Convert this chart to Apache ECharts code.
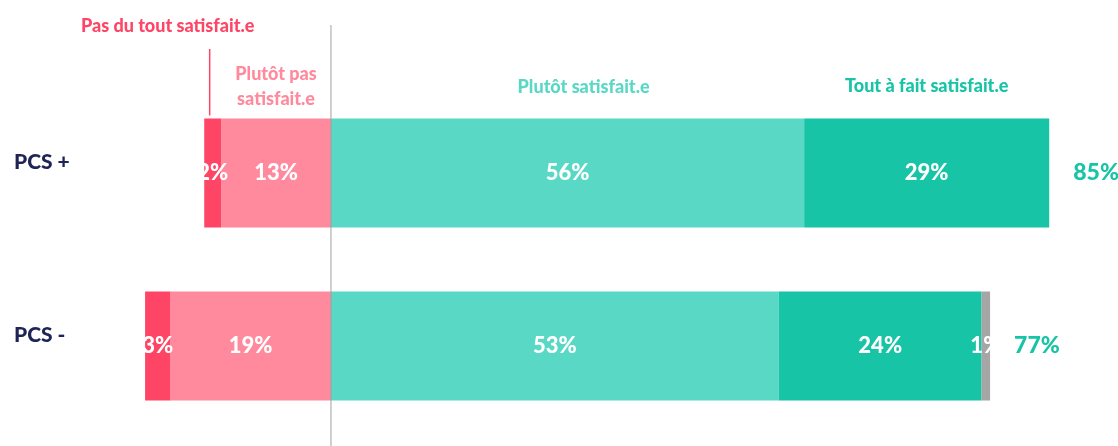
<!DOCTYPE html>
<html>
<head>
<meta charset="utf-8">
<script src="https://cdn.jsdelivr.net/npm/echarts@6/dist/echarts.min.js"></script>
<style>
  html, body { margin: 0; padding: 0; background: #fff; }
  #main { width: 1118px; height: 446px; }
</style>
</head>
<body>
<div id="main"></div>
<script>
// satisfaction par PCS
const categories = ['PCS +', 'PCS -']
const pasDuTout = [2, 3]
const plutotPas = [13, 19]
const plutotSat = [56, 53]
const toutAFait = [29, 24]
const nonReponse = [0, 1]
const totals = [85, 77]

const FONT = 'Lato'
const C_RED = '#FF4566'
const C_PINK = '#FF8A9D'
const C_LTEAL = '#5AD8C6'
const C_TEAL = '#17C4A5'
const C_GREY = '#A6A6A6'

let chart = echarts.init(document.getElementById('main'), null, { renderer: 'canvas' })

let pctLabel = {
  show: true,
  position: 'inside',
  color: '#fff',
  fontFamily: FONT,
  fontWeight: 900,
  fontSize: 22,
  formatter: (p) => (p.value === 0 ? '' : Math.abs(p.value) + '%'),
}

function bar(name, data, color, neg) {
  return {
    name,
    type: 'bar',
    stack: 'sat',
    barWidth: 109,
    data: data.map((v) => (neg ? -v : v)),
    itemStyle: { color },
    label: pctLabel,
    emphasis: { disabled: true },
  }
}

chart.setOption({
  animation: false,
  grid: { left: 0, right: 0, top: 86.5, height: 346 },
  xAxis: {
    type: 'value',
    min: -39.17,
    max: 93.14,
    show: false,
  },
  yAxis: {
    type: 'category',
    data: categories,
    inverse: true,
    axisLine: { show: false },
    axisTick: { show: false },
    axisLabel: {
      inside: true,
      margin: 14,
      color: '#1F2456',
      fontFamily: FONT,
      fontWeight: 900,
      fontSize: 21,
      verticalAlign: 'bottom',
    },
  },
  series: [
    bar('Plutôt pas satisfait.e', plutotPas, C_PINK, true),
    bar('Pas du tout satisfait.e', pasDuTout, C_RED, true),
    bar('Plutôt satisfait.e', plutotSat, C_LTEAL),
    bar('Tout à fait satisfait.e', toutAFait, C_TEAL),
    bar('NR', nonReponse, C_GREY),
    {
      // totaux satisfaits
      name: 'total',
      type: 'bar',
      stack: 'sat',
      barWidth: 109,
      data: totals.map(() => 0),
      itemStyle: { color: 'transparent' },
      label: {
        show: true,
        position: 'right',
        distance: 24,
        color: C_TEAL,
        fontFamily: FONT,
        fontWeight: 900,
        fontSize: 23,
        formatter: (p) => totals[p.dataIndex] + '%',
      },
    },
  ],
})

// en-têtes au-dessus de la première barre
let px = (x) => chart.convertToPixel({ gridIndex: 0 }, [x, 0])
let barTop = px(0)[1] - 109 / 2
let zeroX = px(0)[0]
let redX = px(-plutotPas[0] - pasDuTout[0] / 2)[0]

let headStyle = (text, color) => ({
  text,
  fill: color,
  font: `900 18px ${FONT}`,
  textAlign: 'center',
  textVerticalAlign: 'middle',
  lineHeight: 25,
})

chart.setOption({
  graphic: [
    {
      type: 'line',
      shape: { x1: zeroX, y1: 25, x2: zeroX, y2: 446 },
      style: { stroke: '#A0A0A0', lineWidth: 1 },
      z: 10,
    },
    {
      type: 'line',
      shape: { x1: redX - 3, y1: 49, x2: redX - 3, y2: barTop - 3 },
      style: { stroke: C_RED, lineWidth: 1.5 },
    },
    {
      type: 'text',
      x: redX - 45,
      y: barTop - 92,
      style: headStyle('Pas du tout satisfait.e', C_RED),
    },
    {
      type: 'text',
      x: px(-plutotPas[0] / 2)[0],
      y: barTop - 32,
      style: headStyle('Plutôt pas\nsatisfait.e', C_PINK),
    },
    {
      type: 'text',
      x: px(plutotSat[0] / 2)[0] + 16,
      y: barTop - 31,
      style: headStyle('Plutôt satisfait.e', C_LTEAL),
    },
    {
      type: 'text',
      x: px(plutotSat[0] + toutAFait[0] / 2)[0],
      y: barTop - 32,
      style: headStyle('Tout à fait satisfait.e', C_TEAL),
    },
  ],
})
</script>
</body>
</html>
